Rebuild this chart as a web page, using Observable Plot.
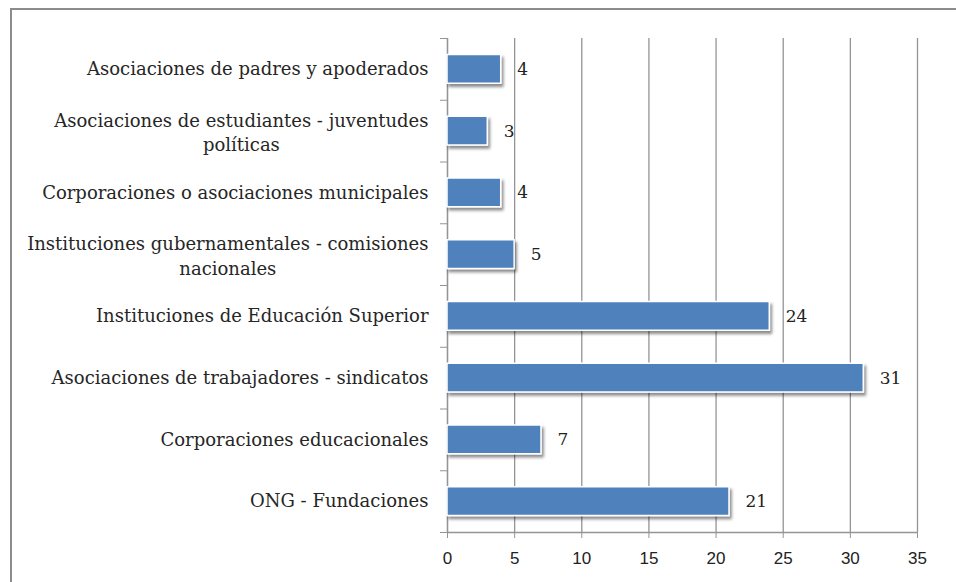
<!DOCTYPE html>
<html>
<head>
<meta charset="utf-8">
<script src="https://cdn.jsdelivr.net/npm/d3@7"></script>
<script src="https://cdn.jsdelivr.net/npm/@observablehq/plot@0.6"></script>
<style>
  html, body { margin: 0; padding: 0; background: #fff; }
  #wrap { position: relative; width: 956px; height: 582px; overflow: hidden; }
  #frame { position: absolute; left: 10px; top: 8px; width: 960px; height: 600px;
           border-top: 2px solid #8c8c8c; border-left: 2px solid #8c8c8c; pointer-events: none; }
</style>
</head>
<body>
<div id="wrap"><div id="chart"></div><div id="frame"></div></div>
<script>
// Categories, top to bottom (tick labels, "\n" marks the line break)
const categories = [
  "Asociaciones de padres y apoderados",
  "Asociaciones de estudiantes - juventudes\npolíticas",
  "Corporaciones o asociaciones municipales",
  "Instituciones gubernamentales - comisiones\nnacionales",
  "Instituciones de Educación Superior",
  "Asociaciones de trabajadores - sindicatos",
  "Corporaciones educacionales",
  "ONG - Fundaciones"
];
const values = [4, 3, 4, 5, 24, 31, 7, 21];
const xTicks = [0, 5, 10, 15, 20, 25, 30, 35];

const rows = categories.map((c, i) => ({cat: c, value: values[i], i}));

const serif = "'DejaVu Serif', 'Liberation Serif', serif";
const sans = "'Liberation Sans', Arial, sans-serif";
const labelSize = 18;

// measure widths for centering multi-line labels
const ctx = document.createElement("canvas").getContext("2d");
ctx.font = `${labelSize}px 'DejaVu Serif'`;
const labelGap = 19;
const singles = rows.filter(d => !d.cat.includes("\n"));
const multis = rows.filter(d => d.cat.includes("\n")).map(d => {
  const w = d3.max(d.cat.split("\n"), s => ctx.measureText(s).width);
  return {...d, off: -labelGap - w / 2};
});

const grey = "#949494";

const chart = Plot.plot({
  width: 956,
  height: 582,
  marginLeft: 447,
  marginRight: 39,
  marginTop: 38,
  marginBottom: 50,
  style: {background: "transparent", overflow: "visible"},
  x: {domain: [0, 35]},
  y: {domain: [0, categories.length], reverse: true},
  marks: [
    Plot.gridX(xTicks, {stroke: grey, strokeOpacity: 1, strokeWidth: 1.3}),
    Plot.axisX(xTicks, {tickSize: 6, tickPadding: 13, stroke: grey, fontSize: 17, fontFamily: sans, fill: "#222", label: null, tickFormat: d => String(d)}),
    Plot.axisY(d3.range(0, categories.length + 1), {tickSize: 7, stroke: grey, tickFormat: () => "", label: null}),
    Plot.ruleX([0], {stroke: grey, strokeWidth: 1.3}),
    Plot.ruleY([categories.length], {stroke: grey, strokeWidth: 1.3}),
    Plot.rectX(rows, {x1: 0, x2: "value", y1: d => d.i, y2: d => d.i + 1, insetTop: 16.5, insetBottom: 16.5,
      fill: "#4f81bd", stroke: "#ffffff", strokeWidth: 1.5}),
    Plot.text(rows, {x: "value", y: d => d.i + 0.5, text: d => String(d.value), dx: 16, textAnchor: "start",
      fontSize: 17, fontFamily: serif, fill: "#222"}),
    Plot.text(singles, {x: 0, y: d => d.i + 0.5, text: "cat", dx: -labelGap, textAnchor: "end",
      fontSize: labelSize, fontFamily: serif, fill: "#262626"}),
    ...multis.map(d => Plot.text([d], {x: 0, y: r => r.i + 0.5, text: "cat", dx: d.off, textAnchor: "middle",
      lineHeight: 1.35, fontSize: labelSize, fontFamily: serif, fill: "#262626"}))
  ]
});

// drop shadow on bars
const ns = "http://www.w3.org/2000/svg";
const defs = document.createElementNS(ns, "defs");
defs.innerHTML = '<filter id="barShadow" x="-10%" y="-30%" width="130%" height="190%"><feDropShadow dx="2" dy="3" stdDeviation="1.8" flood-color="#000" flood-opacity="0.45"/></filter>';
chart.insertBefore(defs, chart.firstChild);
const rectG = chart.querySelector('g[aria-label="rect"]');
if (rectG) rectG.setAttribute("filter", "url(#barShadow)");

document.getElementById("chart").appendChild(chart);
</script>
</body>
</html>
